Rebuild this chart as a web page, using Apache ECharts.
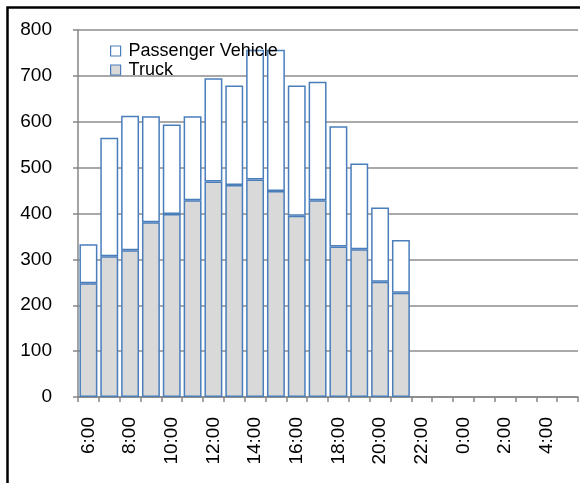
<!DOCTYPE html>
<html>
<head>
<meta charset="utf-8">
<script src="https://cdn.jsdelivr.net/npm/echarts@6/dist/echarts.min.js"></script>
<style>html,body{margin:0;padding:0;background:#fff}#c{width:580px;height:483px}</style>
</head>
<body>
<div id="c"></div>
<script>
const hours = ['6:00','7:00','8:00','9:00','10:00','11:00','12:00','13:00','14:00','15:00','16:00','17:00','18:00','19:00','20:00','21:00','22:00','23:00','0:00','1:00','2:00','3:00','4:00','5:00'];
const truck = [248, 307, 320, 381, 399, 429, 470, 462, 474, 449, 395, 429, 328, 322, 251, 227, null, null, null, null, null, null, null, null];
const passengerVehicle = [85, 258, 293, 231, 195, 183, 225, 217, 283, 308, 284, 258, 262, 187, 162, 115, null, null, null, null, null, null, null, null];
const yTicks = [0, 100, 200, 300, 400, 500, 600, 700, 800];

const font = 'Liberation Sans, Arial, sans-serif';
const chart = echarts.init(document.getElementById('c'), null, {renderer: 'canvas'});
chart.setOption({
  animation: false,
  backgroundColor: '#fff',
  graphic: [{
    type: 'rect', left: 5, top: 5, shape: {x: 0, y: 0, width: 700, height: 700},
    style: {fill: 'none', stroke: '#000', lineWidth: 2.5}, silent: true
  }],
  legend: {
    left: 105, top: 37, orient: 'vertical', itemGap: 1,
    itemWidth: 10, itemHeight: 10,
    textStyle: {fontFamily: font, fontSize: 18, color: '#000', padding: [0, 0, 0, 3]},
    data: [
      {name: 'Passenger Vehicle', icon: 'rect', itemStyle: {color: '#fff', borderColor: '#4a7ebb', borderWidth: 1.2}},
      {name: 'Truck', icon: 'rect', itemStyle: {color: '#d9d9d9', borderColor: '#4a7ebb', borderWidth: 1.2}}
    ]
  },
  grid: {left: 78, right: 2, top: 30, bottom: 86},
  xAxis: {
    type: 'category', data: hours, boundaryGap: true,
    axisLine: {lineStyle: {color: '#868686', width: 1.5}},
    axisTick: {show: true, length: 5, interval: 0, lineStyle: {color: '#868686', width: 1.5}},
    axisLabel: {interval: 1, rotate: 90, align: 'right', verticalAlign: 'middle', margin: 20, fontFamily: font, fontSize: 19, color: '#000'}
  },
  yAxis: {
    type: 'value', min: yTicks[0], max: yTicks[yTicks.length - 1], interval: 100,
    axisLine: {show: true, lineStyle: {color: '#868686', width: 1.5}},
    axisTick: {show: true, length: 5, lineStyle: {color: '#868686', width: 1.5}},
    axisLabel: {margin: 26, fontFamily: font, fontSize: 19, color: '#000'},
    splitLine: {lineStyle: {color: '#8c8c8c', width: 1.5}}
  },
  series: [
    {
      name: 'Truck', type: 'bar', stack: 'total', data: truck, barWidth: '86%',
      itemStyle: {color: '#d9d9d9', borderColor: '#4a7ebb', borderWidth: 1.5}
    },
    {
      name: 'Passenger Vehicle', type: 'bar', stack: 'total', data: passengerVehicle,
      itemStyle: {color: '#fff', borderColor: '#4a7ebb', borderWidth: 1.5}
    }
  ]
});
</script>
</body>
</html>
